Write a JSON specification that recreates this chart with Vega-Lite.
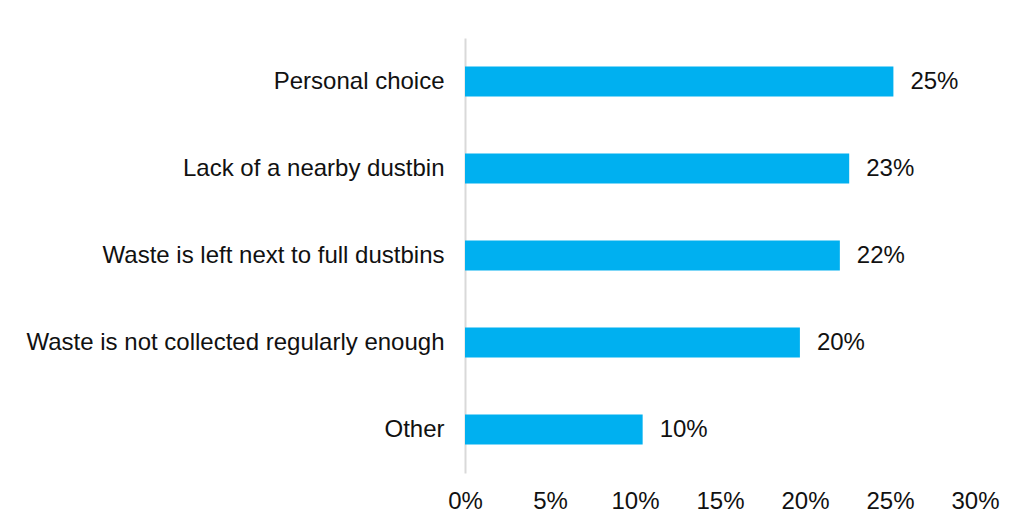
{
  "$schema": "https://vega.github.io/schema/vega-lite/v6.json",
  "autosize": "none",
  "width": 510,
  "height": 435,
  "padding": {"left": 465, "top": 38, "right": 41, "bottom": 51},
  "background": "white",
  "config": {
    "view": {"stroke": null},
    "font": "Liberation Sans",
    "axis": {"labelFont": "Liberation Sans", "labelColor": "#111111", "labelFontSize": 24, "ticks": false, "grid": false, "title": null}
  },
  "data": {
    "values": [
      {"reason": "Personal choice", "share": 0.252},
      {"reason": "Lack of a nearby dustbin", "share": 0.226},
      {"reason": "Waste is left next to full dustbins", "share": 0.2205},
      {"reason": "Waste is not collected regularly enough", "share": 0.197},
      {"reason": "Other", "share": 0.1045}
    ]
  },
  "encoding": {
    "y": {
      "field": "reason", "type": "nominal", "sort": null,
      "scale": {"paddingInner": 0, "paddingOuter": 0},
      "axis": {"domain": true, "domainColor": "#d9d9d9", "domainWidth": 2, "labelPadding": 21, "labelLimit": 500}
    },
    "x": {
      "field": "share", "type": "quantitative",
      "scale": {"domain": [0, 0.3], "nice": false},
      "axis": {"domain": false, "labelFlush": false, "values": [0, 0.05, 0.1, 0.15, 0.2, 0.25, 0.3], "format": ".0%", "labelPadding": 16}
    }
  },
  "layer": [
    {"mark": {"type": "bar", "color": "#00b0f0", "size": 30}},
    {
      "mark": {"type": "text", "align": "left", "baseline": "middle", "dx": 17, "fontSize": 24, "color": "#111111", "font": "Liberation Sans"},
      "encoding": {"text": {"field": "share", "type": "quantitative", "format": ".0%"}}
    }
  ]
}
